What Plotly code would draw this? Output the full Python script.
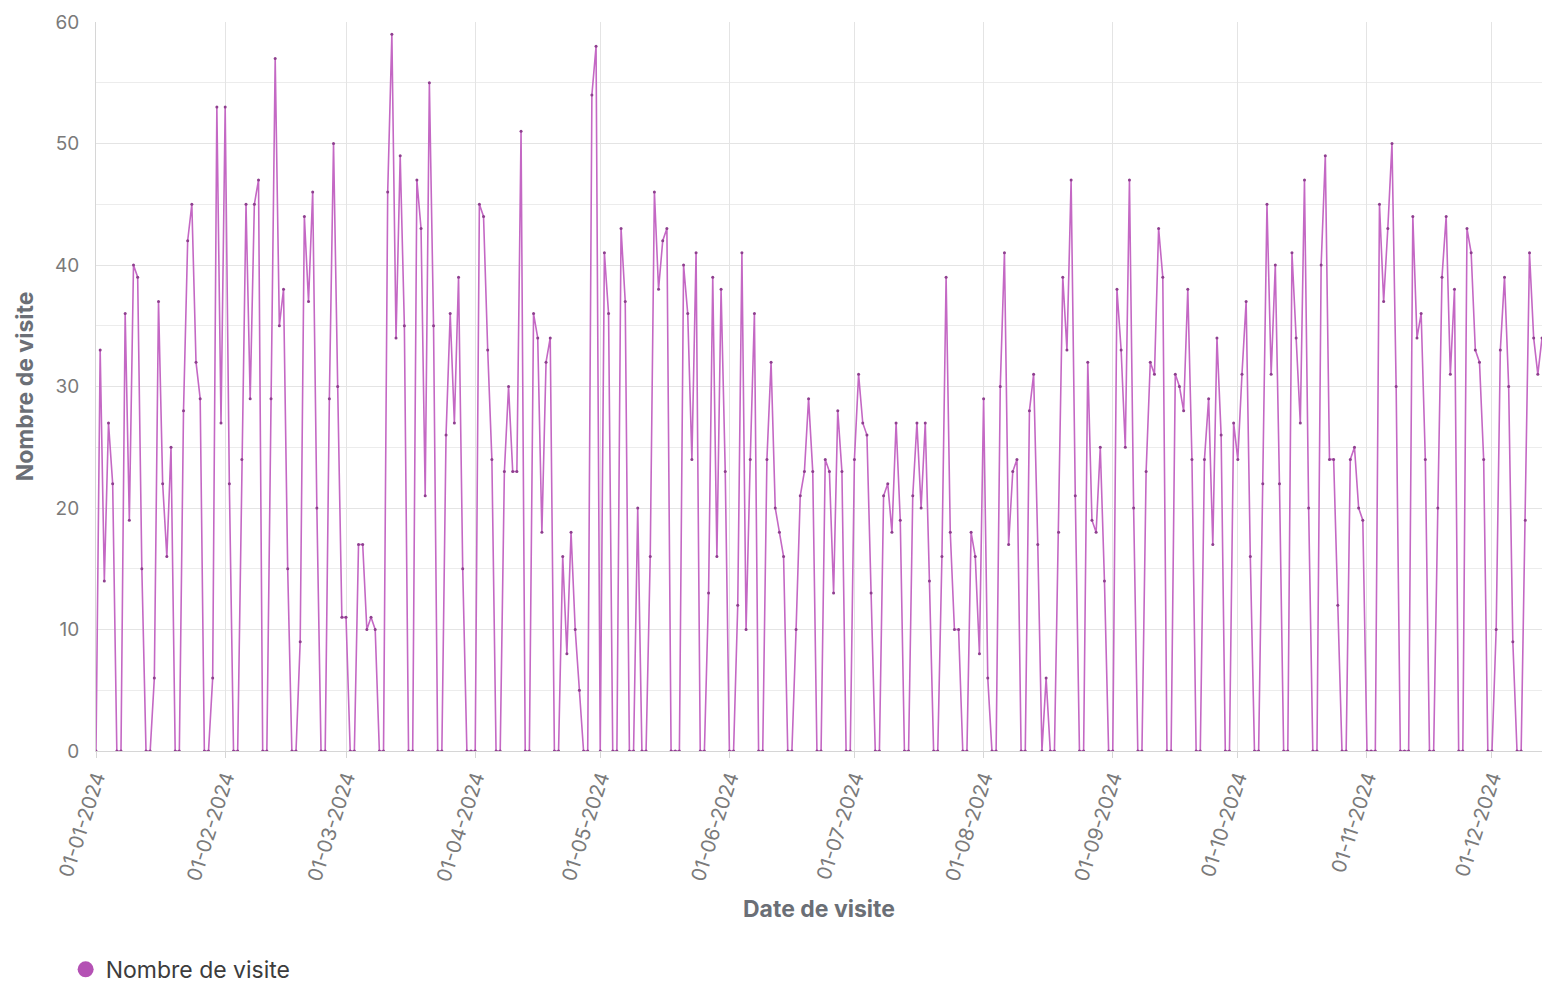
import pandas as pd
import plotly.graph_objects as go

# Visites journalières 2024 (0 = week-end / jour férié)
janvier = [0, 33, 14, 27, 22, 0, 0, 36, 19, 40, 39, 15, 0, 0, 6, 37, 22, 16, 25, 0, 0,
           28, 42, 45, 32, 29, 0, 0, 6, 53, 27]
fevrier = [53, 22, 0, 0, 24, 45, 29, 45, 47, 0, 0, 29, 57, 35, 38, 15, 0, 0, 9, 44, 37,
           46, 20, 0, 0, 29, 50, 30, 11]
mars = [11, 0, 0, 17, 17, 10, 11, 10, 0, 0, 46, 59, 34, 49, 35, 0, 0, 47, 43, 21, 55,
        35, 0, 0, 26, 36, 27, 39, 15, 0, 0]
avril = [0, 45, 44, 33, 24, 0, 0, 23, 30, 23, 23, 51, 0, 0, 36, 34, 18, 32, 34, 0, 0,
         16, 8, 18, 10, 5, 0, 0, 54, 58]
mai = [0, 41, 36, 0, 0, 43, 37, 0, 0, 20, 0, 0, 16, 46, 38, 42, 43, 0, 0, 0, 40,
       36, 24, 41, 0, 0, 13, 39, 16, 38, 23]
juin = [0, 0, 12, 41, 10, 24, 36, 0, 0, 24, 32, 20, 18, 16, 0, 0, 10, 21, 23, 29, 23,
        0, 0, 24, 23, 13, 28, 23, 0, 0]
juillet = [24, 31, 27, 26, 13, 0, 0, 21, 22, 18, 27, 19, 0, 0, 21, 27, 20, 27, 14, 0, 0,
           16, 39, 18, 10, 10, 0, 0, 18, 16, 8]
aout = [29, 6, 0, 0, 30, 41, 17, 23, 24, 0, 0, 28, 31, 17, 0, 6, 0, 0, 18, 39, 33,
        47, 21, 0, 0, 32, 19, 18, 25, 14, 0]
septembre = [0, 38, 33, 25, 47, 20, 0, 0, 23, 32, 31, 43, 39, 0, 0, 31, 30, 28, 38, 24, 0,
             0, 24, 29, 17, 34, 26, 0, 0, 27]
octobre = [24, 31, 37, 16, 0, 0, 22, 45, 31, 40, 22, 0, 0, 41, 34, 27, 47, 20, 0, 0, 40,
           49, 24, 24, 12, 0, 0, 24, 25, 20, 19]
novembre = [0, 0, 0, 45, 37, 43, 50, 30, 0, 0, 0, 44, 34, 36, 24, 0, 0, 20, 39, 44, 31,
            38, 0, 0, 43, 41, 33, 32, 24, 0]
decembre = [0, 10, 33, 39, 30, 9, 0, 0, 19, 41, 34, 31, 34]

visites = (janvier + fevrier + mars + avril + mai + juin + juillet + aout
           + septembre + octobre + novembre + decembre)
dates = pd.date_range("2024-01-01", periods=len(visites), freq="D")

mois = pd.date_range("2024-01-01", "2024-12-01", freq="MS")

LINE = "#c468c4"
DOT = "#8e3f8e"
GREY = "#6b6f76"

fig = go.Figure()
fig.add_trace(
    go.Scatter(x=dates, y=visites, name="Nombre de visite", mode="lines+markers",
               line=dict(color=LINE, width=1.6),
               marker=dict(color=DOT, size=3), showlegend=False)
)
# trace fantôme pour la pastille de légende
fig.add_trace(
    go.Scatter(x=[None], y=[None], name="Nombre de visite", mode="markers",
               marker=dict(color="#b451b4", size=22), showlegend=True)
)

fig.update_layout(
    width=1542, height=991,
    margin=dict(l=96, r=0, t=22, b=228),
    plot_bgcolor="white", paper_bgcolor="white",
    font=dict(family="Inter, Noto Sans, sans-serif", color=GREY, size=17),
    legend=dict(orientation="h", x=-0.021, xanchor="left", y=-0.2996, yanchor="middle",
                font=dict(size=23, color="#3c3c3c")),
)

fig.update_xaxes(
    range=["2024-01-01", "2024-12-13"],
    tickvals=mois, tickformat="%d-%m-%Y", tickangle=-72,
    tickfont=dict(size=20, color="#7a7a7a"),
    showgrid=True, gridcolor="#e4e4e4", gridwidth=1,
    showline=True, linecolor="#d6d6d6",
    ticks="outside", ticklen=6, tickcolor="#d6d6d6",
    title=dict(text="<b>Date de visite</b>", font=dict(size=23, color=GREY), standoff=17),
)
fig.update_yaxes(
    range=[0, 60], dtick=10,
    tickfont=dict(size=19, color="#7a7a7a"),
    showgrid=True, gridcolor="#e4e4e4", gridwidth=1,
    minor=dict(dtick=5, showgrid=True, gridcolor="#ececec"),
    showline=True, linecolor="#d6d6d6",
    ticks="", ticklabelstandoff=12,
    zeroline=False,
    title=dict(text="<b>Nombre de visite</b>", font=dict(size=23, color=GREY), standoff=14),
)

# marge du body à 0 pour que le graphique remplisse exactement la fenêtre
fig.write_html("out.html", config={"displayModeBar": False},
               post_script="document.body.style.margin='0';document.body.style.overflow='hidden';")
